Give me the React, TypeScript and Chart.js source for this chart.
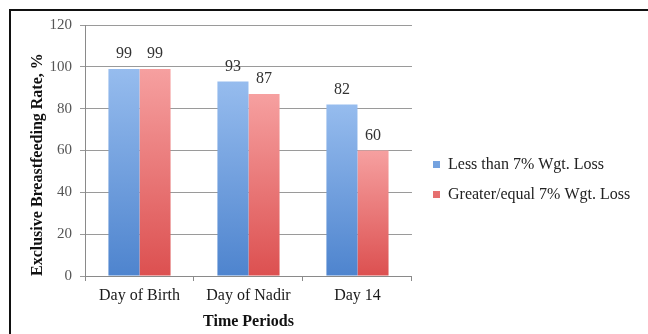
import React, { useEffect, useRef } from "react";
import { Chart, registerables } from "chart.js";

Chart.register(...registerables);

const categories = ["Day of Birth", "Day of Nadir", "Day 14"];
const seriesNames = ["Less than 7% Wgt. Loss", "Greater/equal 7% Wgt. Loss"];
const lessThan7 = [99, 93, 82];
const greaterEqual7 = [99, 87, 60];
const yTicks = [0, 20, 40, 60, 80, 100, 120];

const SERIF = '"Liberation Serif", "Times New Roman", serif';

const BLUE_TOP = "rgb(150,188,238)";
const BLUE_BOTTOM = "rgb(78,132,206)";
const BLUE_SOLID = "rgb(100,155,220)";
const RED_TOP = "rgb(246,160,160)";
const RED_BOTTOM = "rgb(220,80,80)";
const RED_SOLID = "rgb(226,106,106)";

function gradientFill(top: string, bottom: string, solid: string) {
  return (c: any) => {
    const chart = c.chart;
    const area = chart.chartArea;
    if (c.type !== "data" || !area || !chart.scales?.y) return solid;
    const yTop = chart.scales.y.getPixelForValue(c.raw);
    const g = chart.ctx.createLinearGradient(0, yTop, 0, area.bottom);
    g.addColorStop(0, top);
    g.addColorStop(1, bottom);
    return g;
  };
}

const valueLabels = {
  id: "valueLabels",
  afterDatasetsDraw(chart: any) {
    const ctx = chart.ctx;
    ctx.save();
    ctx.font = `16px ${SERIF}`;
    ctx.fillStyle = "#333";
    ctx.textAlign = "center";
    ctx.textBaseline = "middle";
    chart.data.datasets.forEach((ds: any, di: number) => {
      const meta = chart.getDatasetMeta(di);
      meta.data.forEach((bar: any, i: number) => {
        ctx.fillText(String(ds.data[i]), bar.x, bar.y - 15);
      });
    });
    ctx.restore();
  },
};

const legendPlace = {
  id: "legendPlace",
  afterLayout(chart: any) {
    const l = chart.legend;
    if (!l) return;
    const h = l.height;
    l.left = 419;
    l.right = 648;
    l.width = l.right - l.left;
    l.top = 142.5;
    l.bottom = l.top + h;
  },
};

export default function App() {
  const ref = useRef<HTMLCanvasElement | null>(null);

  useEffect(() => {
    if (!ref.current) return;
    const chart = new Chart(ref.current, {
      type: "bar",
      data: {
        labels: categories,
        datasets: [
          {
            label: seriesNames[0],
            data: lessThan7,
            backgroundColor: gradientFill(BLUE_TOP, BLUE_BOTTOM, BLUE_SOLID),
            borderWidth: 0,
            categoryPercentage: 0.57,
            barPercentage: 1.0,
          },
          {
            label: seriesNames[1],
            data: greaterEqual7,
            backgroundColor: gradientFill(RED_TOP, RED_BOTTOM, RED_SOLID),
            borderWidth: 0,
            categoryPercentage: 0.57,
            barPercentage: 1.0,
          },
        ],
      },
      options: {
        responsive: false,
        animation: false,
        devicePixelRatio: 1,
        layout: { padding: { left: 24, right: 106.7, top: 25, bottom: 0 } },
        plugins: {
          tooltip: { enabled: false },
          legend: {
            position: "right",
            align: "start",
            labels: {
              boxWidth: 7,
              boxHeight: 7,
              padding: 14,
              color: "#222",
              font: { family: SERIF, size: 16 },
            },
          },
        },
        scales: {
          x: {
            grid: {
              display: true,
              drawOnChartArea: false,
              drawTicks: true,
              tickLength: 5,
              color: "#8a8a8a",
              offset: true,
            },
            border: { display: true, color: "#8a8a8a", width: 1 },
            ticks: {
              color: "#1a1a1a",
              padding: 5,
              font: { family: SERIF, size: 16 },
            },
            title: {
              display: true,
              text: "Time Periods",
              color: "#111",
              font: { family: SERIF, size: 16, weight: "bold" },
              padding: { top: 4, bottom: 3 },
            },
            afterFit(scale: any) {
              scale.height = 58;
            },
          },
          y: {
            min: 0,
            max: 120,
            afterBuildTicks(scale: any) {
              scale.ticks = yTicks.map((v) => ({ value: v }));
            },
            grid: {
              color: "#9a9a9a",
              lineWidth: 1,
              drawTicks: true,
              tickLength: 5,
            },
            border: { display: true, color: "#8a8a8a", width: 1 },
            ticks: {
              color: "#555",
              padding: 8,
              font: { family: SERIF, size: 15 },
            },
            title: {
              display: true,
              text: "Exclusive Breastfeeding Rate, %",
              align: "start",
              color: "#111",
              font: { family: SERIF, size: 16, weight: "bold" },
              padding: { top: 4, bottom: 4 },
            },
            afterFit(scale: any) {
              scale.width = 61;
            },
          },
        },
      },
      plugins: [valueLabels, legendPlace],
    });
    return () => chart.destroy();
  }, []);

  return (
    <div style={{ position: "fixed", left: 0, top: 0, width: 648, height: 334, background: "#fff" }}>
      <canvas ref={ref} width={648} height={334} style={{ position: "absolute", left: 0, top: 0 }} />
      <div
        style={{
          position: "absolute",
          left: 9,
          top: 9,
          right: 0,
          bottom: 0,
          borderTop: "2px solid #111",
          borderLeft: "2px solid #111",
          pointerEvents: "none",
        }}
      />
    </div>
  );
}
